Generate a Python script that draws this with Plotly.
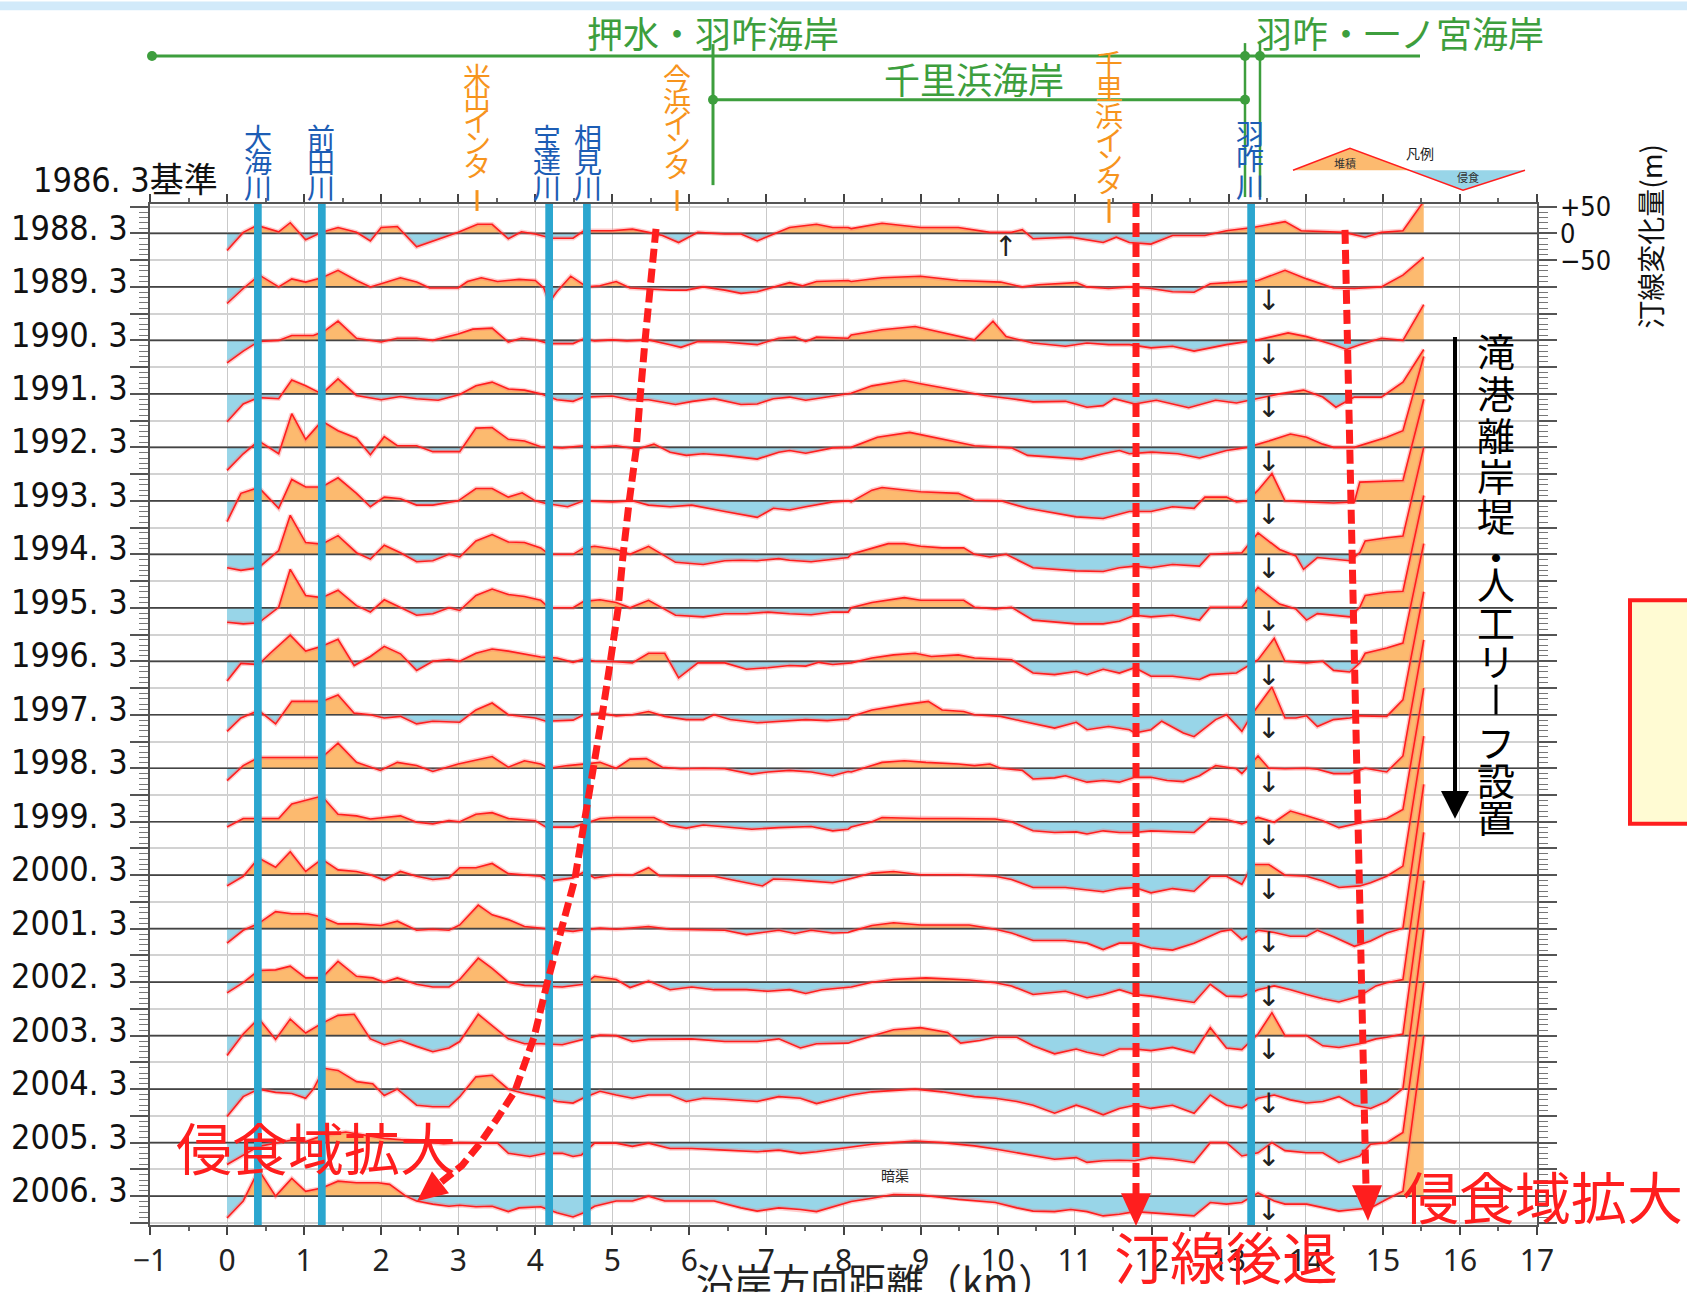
import plotly.graph_objects as go

# ---------------- data ----------------
YEARS = ["1988. 3", "1989. 3", "1990. 3", "1991. 3", "1992. 3", "1993. 3", "1994. 3",
         "1995. 3", "1996. 3", "1997. 3", "1998. 3", "1999. 3", "2000. 3", "2001. 3",
         "2002. 3", "2003. 3", "2004. 3", "2005. 3", "2006. 3"]

# alongshore distance (km) and shoreline change (m) per survey
X_1988 = [0, 0.21, 0.39, 0.67, 0.82, 1.02, 1.23, 1.44, 1.68, 1.86, 2.0, 2.21, 2.46, 3.0, 3.25, 3.44, 3.65, 3.82, 4.0, 4.21,
          4.49, 4.63, 5.0, 5.26, 5.47, 5.65, 5.86, 6.11, 6.46, 6.67, 6.88, 7.16, 7.30, 7.65, 7.86, 8.06,
          8.10, 8.50, 9.0, 9.49, 9.90, 10.18, 10.32, 10.46, 10.95, 11.37, 11.54, 11.71, 11.99, 12.27, 12.69,
          12.97, 13.31, 13.73, 13.94, 14.50, 14.77, 14.98, 15.26, 15.53]
V_1988 = [-32, 2, 15, 3, 20, -12, 2, 11, 2, -14, 11, 13, -25, 2, 17, 17, -10, 3, -1, -9,
          -9, 5, 5, 8, 2, -4, -17, 2, -1, -1, -14, 2, 11, 17, 11, 11,
          9, 19, 11, 11, 2, 2, 7, -10, -7, -17, -7, -17, -20, -4, -4,
          5, 11, 22, 5, 2, -7, 2, 5, 60]

X_1989 = [0, 0.21, 0.42, 0.67, 0.84, 1.02, 1.23, 1.44, 1.68, 1.86, 2.0, 2.25, 2.46, 2.63, 3.0, 3.12, 3.30, 3.51, 3.79, 4.0,
          4.11, 4.18, 4.28, 4.46, 4.67, 4.84, 5.05, 5.23, 5.47, 5.75, 5.96, 6.18, 6.46, 6.67, 6.88, 7.09, 7.30, 7.47, 7.65, 8.06,
          8.10, 8.50, 9.0, 9.49, 10.04, 10.32, 10.53, 11.02, 11.16, 11.44, 11.71, 11.99, 12.27, 12.55, 12.76,
          13.10, 13.38, 13.73, 14.01, 14.36, 14.63, 14.98, 15.26, 15.53]
V_1989 = [-31, -3, 22, 0, 15, 9, 17, 31, 12, 0, 6, 17, 9, -2, -2, 10, 17, 10, 14, 12,
          -2, -29, -9, 20, 0, 2, 10, -2, -4, -6, -6, 0, -6, -12, -9, 0, 8, 2, 10, 12,
          10, 17, 20, 12, 9, 0, 4, 8, 0, -3, 0, -3, -9, -10, 6,
          9, 12, 31, 15, -2, -3, 0, 22, 55]

X_1990 = [0, 0.21, 0.41, 0.67, 0.84, 1.12, 1.26, 1.44, 1.68, 2.0, 2.21, 2.46, 2.67, 3.0, 3.19, 3.44, 3.65, 3.82, 4.0, 4.18,
          4.49, 4.63, 4.77, 5.0, 5.19, 5.47, 5.75, 5.89, 6.11, 6.46, 6.88, 7.16, 7.37, 7.51, 7.65, 8.06,
          8.10, 8.50, 8.93, 9.28, 9.70, 9.94, 10.11, 10.46, 10.88, 11.16, 11.44, 11.71, 11.99, 12.27, 12.55,
          12.97, 13.38, 13.77, 14.01, 14.36, 14.53, 14.70, 14.98, 15.26, 15.53]
V_1990 = [-42, -20, -2, 0, 9, 9, 17, 36, 4, -3, 4, 4, 0, 12, 21, 23, -3, 4, 1, -6,
          -6, 3, -1, 1, -1, 1, -8, -13, -2, -3, -8, 4, 6, -2, 6, 4,
          10, 20, 26, 14, 1, 36, 7, -5, -11, -5, -8, -8, -14, -11, -20,
          -8, 1, 14, 7, -8, -17, -8, 4, 0, 67]

X_1991 = [0, 0.21, 0.41, 0.67, 0.84, 1.02, 1.23, 1.44, 1.68, 2.0, 2.25, 2.46, 2.74, 3.02, 3.23, 3.44, 3.65, 3.86, 4.07, 4.28,
          4.49, 4.63, 5.0, 5.23, 5.47, 5.82, 6.04, 6.32, 6.67, 6.88, 7.09, 7.30, 7.51, 7.79, 8.06,
          8.10, 8.37, 8.79, 9.0, 9.49, 9.83, 10.18, 10.46, 10.88, 11.16, 11.37, 11.51, 11.78, 12.06, 12.48,
          12.83, 13.10, 13.38, 13.66, 13.97, 14.22, 14.39, 14.63, 14.98, 15.26, 15.53]
V_1991 = [-52, -19, -7, -9, 26, 15, 0, 28, -3, -11, -5, -9, -12, -1, 15, 22, 9, 7, 0, -11,
          -14, -6, -4, -11, -11, -20, -14, -9, -20, -19, -9, -6, -12, -6, 0,
          1, 15, 25, 19, 6, -3, -9, -15, -14, -25, -22, -9, -19, -12, -26,
          -12, -17, -9, 0, 7, -6, -25, -6, -6, 22, 83]

X_1992 = [0, 0.21, 0.41, 0.67, 0.84, 1.02, 1.23, 1.44, 1.68, 1.86, 2.04, 2.21, 2.46, 2.67, 3.02, 3.23, 3.44, 3.65, 3.86, 4.07,
          4.35, 4.63, 4.77, 5.05, 5.33, 5.54, 5.75, 5.96, 6.18, 6.46, 6.88, 7.16, 7.30, 7.51, 7.86, 8.06,
          8.10, 8.44, 8.86, 9.70, 10.18, 10.39, 11.09, 11.37, 11.58, 11.71, 12.0, 12.34, 12.62, 12.97, 13.24,
          13.52, 13.80, 14.01, 14.22, 14.36, 14.63, 15.05, 15.26, 15.53]
V_1992 = [-43, -12, 12, -12, 63, 15, 49, 31, 17, -14, 20, 3, 3, -8, -8, 36, 37, 15, 12, 1,
          -1, 3, 0, 3, -3, 6, -9, -15, -12, -15, -22, -9, -6, -11, -1, 0,
          0, 19, 28, 3, -1, -15, -22, -12, -6, -12, -9, -12, -20, -6, 0,
          12, 25, 19, 6, 0, 0, 19, 31, 170]

X_1993 = [0, 0.18, 0.41, 0.67, 0.84, 1.02, 1.23, 1.44, 1.68, 1.86, 2.04, 2.25, 2.46, 2.67, 3.0, 3.23, 3.44, 3.65, 3.83, 4.0,
          4.14, 4.42, 4.63, 5.0, 5.26, 5.47, 5.75, 6.03, 6.46, 6.88, 7.09, 7.30, 7.51, 7.86, 8.06,
          8.10, 8.37, 8.50, 9.0, 9.49, 9.70, 10.04, 10.39, 11.02, 11.37, 11.71, 11.99, 12.27, 12.55, 12.69,
          12.97, 13.10, 13.24, 13.38, 13.56, 13.73, 14.01, 14.36, 14.63, 14.70, 15.26, 15.53]
V_1993 = [-39, 14, 25, -14, 40, 26, 26, 43, 14, -11, 7, 4, -8, -8, 0, 23, 23, 7, 15, 0,
          -5, -11, 0, -2, 0, -8, -11, -8, -20, -31, -14, -17, -11, -2, 0,
          -2, 20, 25, 17, 14, 1, 0, -14, -30, -33, -20, -20, -11, -14, 7,
          7, -2, 0, 20, 51, 0, -2, -4, -2, 35, 38, 190]

X_1994 = [0, 0.18, 0.41, 0.56, 0.67, 0.82, 1.02, 1.23, 1.44, 1.68, 1.86, 2.04, 2.25, 2.46, 2.67, 2.88, 3.02, 3.23, 3.44, 3.65,
          3.86, 4.07, 4.18, 4.49, 4.63, 4.77, 5.05, 5.23, 5.47, 5.68, 5.82, 6.18, 6.46, 6.67, 6.88, 7.16, 7.30, 7.58, 7.86, 8.06,
          8.10, 8.37, 8.58, 8.79, 9.0, 9.28, 9.56, 9.70, 9.90, 10.11, 10.46, 11.02, 11.37, 11.58, 11.78,
          11.99, 12.27, 12.62, 12.76, 13.17, 13.38, 13.66, 13.87, 13.97, 14.15, 14.57, 14.70, 14.77, 15.05, 15.26, 15.53]
V_1994 = [-25, -30, -25, -6, 7, 73, 22, 19, 35, 3, -9, 17, 3, -14, -12, 0, -5, 25, 37, 23,
          22, 12, 0, 0, 12, 15, 9, 0, 15, -3, -15, -19, -12, -11, -12, -8, -11, -14, -9, -6,
          0, 12, 20, 20, 15, 12, 12, 0, -5, 0, -25, -31, -32, -25, -22,
          -25, -19, -22, 0, 3, 40, 9, -3, -28, -6, -12, 3, 25, 31, 34, 200]

X_1995 = [0, 0.21, 0.41, 0.67, 0.82, 1.02, 1.23, 1.44, 1.68, 1.86, 2.04, 2.25, 2.46, 2.67, 2.88, 3.02, 3.23, 3.44, 3.65, 3.86,
          4.07, 4.18, 4.49, 4.63, 4.84, 5.05, 5.23, 5.47, 5.68, 5.82, 6.18, 6.46, 6.74, 7.02, 7.30, 7.58, 7.86, 8.06,
          8.10, 8.37, 8.79, 9.0, 9.28, 9.56, 9.70, 9.97, 10.18, 10.46, 11.02, 11.37, 11.58, 11.78, 11.99,
          12.27, 12.62, 12.76, 13.17, 13.38, 13.66, 13.87, 14.01, 14.15, 14.57, 14.70, 14.77, 15.05, 15.26, 15.53]
V_1995 = [-27, -30, -28, 1, 72, 23, 19, 33, 4, -8, 15, 1, -14, -11, 0, -5, 23, 35, 25, 21,
          14, 0, 0, 12, 15, 10, 0, 14, -2, -14, -17, -11, -11, -8, -11, -13, -8, -8,
          0, 10, 19, 14, 14, 14, 1, -2, 1, -23, -30, -30, -25, -14, -17,
          -14, -23, 1, 1, 38, 7, -2, -23, -11, -17, 1, 23, 29, 31, 210]

X_1996 = [0, 0.18, 0.41, 0.56, 0.82, 1.02, 1.23, 1.44, 1.65, 1.86, 2.04, 2.25, 2.46, 2.67, 2.88, 3.02, 3.23, 3.44, 3.65, 3.86,
          4.07, 4.28, 4.49, 4.63, 4.77, 5.05, 5.26, 5.47, 5.68, 5.86, 6.11, 6.46, 6.74, 7.02, 7.30, 7.51, 7.68, 7.86, 8.06,
          8.10, 8.37, 8.65, 8.93, 9.14, 9.49, 9.70, 10.18, 10.46, 10.74, 11.02, 11.16, 11.37, 11.58, 11.78, 11.99,
          12.27, 12.62, 12.76, 13.10, 13.38, 13.59, 13.73, 14.01, 14.22, 14.36, 14.57, 14.70, 14.77, 15.05, 15.26, 15.53]
V_1996 = [-37, -4, -6, 15, 49, 19, 28, 41, -8, 9, 28, 14, -17, 0, 3, 0, 15, 23, 19, 14,
          8, 6, -2, 4, 0, -1, -3, 15, 15, -31, -3, -3, -15, -12, -8, -9, -2, -6, -3,
          -3, 6, 12, 15, 9, 12, 6, 3, -22, -25, -19, -25, -15, -22, -12, -28,
          -28, -34, -25, -22, 3, 43, 0, -3, 0, -17, -20, -3, 15, 25, 34, 220]

X_1997 = [0, 0.18, 0.41, 0.63, 0.84, 1.23, 1.44, 1.65, 1.86, 2.04, 2.25, 2.46, 2.67, 3.02, 3.23, 3.44, 3.65, 4.0, 4.14, 4.49,
          4.63, 4.84, 5.05, 5.26, 5.47, 5.68, 5.96, 6.18, 6.32, 6.53, 6.88, 7.16, 7.51, 7.79, 8.06,
          8.10, 8.37, 8.79, 9.10, 9.28, 9.56, 9.70, 10.04, 10.32, 10.74, 11.02, 11.16, 11.44, 11.71, 11.78, 11.99,
          12.13, 12.41, 12.55, 12.83, 12.97, 13.17, 13.31, 13.56, 13.73, 13.87, 14.01, 14.15, 14.36, 14.57, 14.70,
          15.05, 15.26, 15.53]
V_1997 = [-31, -6, 8, -17, 25, 25, 37, 3, 0, -6, -3, -17, -12, -14, 9, 22, 0, -6, -12, -10,
          0, 3, -2, 0, 6, -3, -9, -9, 0, -9, -15, -12, -9, -11, -8,
          -3, 9, 19, 25, 9, 6, 0, -3, -12, -25, -14, -28, -22, -28, -34, -28,
          -12, -34, -41, -9, 0, -31, 3, 52, -6, -6, -2, -22, -9, -6, -2,
          -3, 28, 230]

X_1998 = [0, 0.21, 0.41, 0.84, 1.23, 1.44, 1.68, 1.99, 2.21, 2.46, 2.67, 3.0, 3.44, 3.65, 3.86, 4.07, 4.18, 4.42, 4.63, 4.84,
          5.05, 5.23, 5.44, 5.65, 5.89, 6.18, 6.46, 6.81, 7.02, 7.30, 7.58, 7.86, 8.06,
          8.10, 8.37, 8.50, 8.79, 9.07, 9.49, 9.70, 9.90, 10.04, 10.32, 10.46, 10.74, 10.88, 11.16, 11.37, 11.58,
          11.78, 11.99, 12.20, 12.41, 12.62, 12.83, 13.10, 13.17, 13.38, 13.52, 13.73, 14.01, 14.15, 14.36, 14.57,
          14.77, 15.05, 15.26, 15.53]
V_1998 = [-23, 5, 20, 20, 20, 47, 11, -4, 11, 5, -6, 8, 22, 2, 14, 8, 0, 5, 8, 11,
          0, 17, 18, 2, -1, 0, -1, -11, -7, -4, -7, -14, -6,
          -7, 5, 11, 14, 11, 8, 5, 8, 0, -4, -20, -18, -14, -26, -23, -26,
          -17, -17, -23, -25, -14, 5, -1, -10, 23, 0, -1, 0, -2, -10, -10,
          0, -7, 23, 240]

X_1999 = [0, 0.21, 0.67, 0.84, 1.23, 1.44, 1.68, 1.86, 2.04, 2.25, 2.46, 2.67, 2.88, 3.02, 3.23, 3.44, 3.65, 4.0, 4.14, 4.49,
          4.63, 4.84, 5.05, 5.54, 5.75, 5.96, 6.18, 6.46, 6.81, 7.16, 7.58, 7.86, 8.06,
          8.10, 8.37, 8.50, 9.0, 9.49, 9.97, 10.18, 10.46, 10.74, 11.02, 11.16, 11.37, 11.58, 11.78, 11.99,
          12.27, 12.55, 12.76, 12.97, 13.17, 13.38, 13.59, 13.80, 14.01, 14.22, 14.43, 14.63, 14.77, 15.05, 15.26, 15.53]
V_1999 = [-10, 6, 6, 33, 48, 14, 11, 5, 8, 11, -1, -4, 2, 0, 14, 17, 6, 2, -10, -10,
          -4, 6, 8, 8, -7, -12, -6, -9, -14, -11, -9, -17, -14,
          -10, 0, 8, 6, 6, 5, 0, -17, -20, -19, -23, -17, -20, -20, -17,
          -19, -20, 6, 4, -4, 8, -1, 20, 11, 2, -11, -4, 0, 6, 23, 250]

X_2000 = [0, 0.21, 0.41, 0.63, 0.82, 1.02, 1.23, 1.44, 1.68, 1.86, 2.04, 2.25, 2.46, 2.67, 2.88, 3.02, 3.23, 3.44, 3.65, 3.86,
          4.07, 4.18, 4.49, 4.63, 4.77, 5.05, 5.26, 5.47, 5.61, 6.03, 6.32, 6.74, 6.95, 7.09, 7.30, 7.58, 7.86,
          8.10, 8.37, 8.65, 9.0, 9.49, 9.97, 10.18, 10.46, 10.88, 11.16, 11.37, 11.58, 11.78, 11.99, 12.27,
          12.55, 12.76, 12.97, 13.17, 13.31, 13.52, 13.73, 14.01, 14.22, 14.43, 14.70, 14.84, 15.05, 15.26, 15.53]
V_2000 = [-20, -2, 32, 15, 44, 7, 30, 10, 7, 1, -9, 7, -2, -8, -5, 14, 14, 22, 3, 0,
          -2, -11, -5, 6, -5, 1, 0, 14, -1, -2, -2, -14, -20, -7, -8, -11, -14,
          -6, 4, 7, 1, 1, -2, -8, -23, -23, -27, -31, -25, -23, -33, -25,
          -30, -2, -2, -17, 20, 20, 0, -2, -11, -23, -20, -14, -2, 17, 260]

X_2001 = [0, 0.21, 0.41, 0.63, 0.84, 1.05, 1.23, 1.44, 1.68, 2.0, 2.21, 2.46, 2.67, 2.88, 3.02, 3.26, 3.44, 3.65, 3.86, 4.07,
          4.21, 4.49, 4.63, 4.84, 5.05, 5.47, 5.75, 6.18, 6.46, 6.74, 6.95, 7.16, 7.37, 7.58, 7.86, 8.06,
          8.10, 8.37, 8.65, 9.0, 9.63, 9.97, 10.18, 10.46, 10.88, 11.16, 11.37, 11.58, 11.78, 11.99, 12.27,
          12.55, 12.90, 13.03, 13.17, 13.38, 13.59, 13.80, 14.01, 14.15, 14.36, 14.63, 14.84, 15.05, 15.26, 15.53]
V_2001 = [-27, -3, 10, 32, 28, 28, 22, 9, 9, 6, 14, -3, -1, -3, 7, 44, 26, 17, 4, 1,
          -1, -5, -2, 1, -1, 4, -1, -3, -3, -11, -7, -3, -9, -3, -8, -7,
          -5, 6, 11, 7, 7, -1, -8, -22, -22, -27, -39, -27, -27, -36, -40,
          -27, -5, -2, -20, -3, -7, -14, -14, -3, -15, -33, -23, -8, 1, 270]

X_2002 = [0, 0.21, 0.41, 0.63, 0.82, 1.02, 1.23, 1.44, 1.68, 1.89, 2.04, 2.21, 2.46, 2.67, 2.88, 3.02, 3.26, 3.44, 3.65, 3.86,
          4.07, 4.35, 4.63, 4.77, 5.05, 5.23, 5.47, 5.75, 6.03, 6.32, 6.74, 7.02, 7.30, 7.51, 7.72,
          8.10, 8.37, 8.65, 9.07, 9.63, 9.97, 10.18, 10.46, 10.88, 11.16, 11.37, 11.58, 11.78, 11.99, 12.27,
          12.55, 12.76, 12.97, 13.17, 13.38, 13.59, 13.80, 14.01, 14.22, 14.43, 14.70, 14.91, 15.05, 15.26, 15.53]
V_2002 = [-20, -1, 22, 23, 30, 8, 8, 39, 11, 8, 0, 8, -4, -9, -9, 5, 45, 26, 0, -6,
          -7, -9, -4, 11, 5, -10, 2, -14, -9, -14, -14, -17, -14, -21, -14,
          -9, 0, 5, 8, 4, -1, -7, -23, -17, -29, -23, -14, -23, -26, -32,
          -38, -4, -26, -27, -14, -7, -14, -23, -31, -37, -26, -7, -1, 5, 280]

X_2003 = [0, 0.21, 0.41, 0.63, 0.82, 1.02, 1.23, 1.44, 1.65, 1.86, 2.04, 2.25, 2.46, 2.67, 2.88, 3.02, 3.26, 3.44, 3.65, 3.86,
          4.07, 4.35, 4.63, 4.84, 5.05, 5.26, 5.47, 5.75, 6.03, 6.46, 6.88, 7.16, 7.44, 7.65, 8.06,
          8.10, 8.37, 8.65, 9.0, 9.35, 9.52, 9.77, 9.97, 10.25, 10.46, 10.74, 11.02, 11.16, 11.37, 11.58, 11.78,
          11.99, 12.27, 12.55, 12.76, 12.97, 13.17, 13.38, 13.56, 13.73, 14.01, 14.22, 14.43, 14.70, 14.91, 15.05,
          15.26, 15.53]
V_2003 = [-37, 3, 32, -7, 31, 5, 23, 38, 40, -6, -17, -9, -20, -30, -23, -11, 40, 19, -6, -15,
          -15, -17, -6, 1, 0, -11, -7, -6, -6, -11, -11, -6, -23, -15, -14,
          -12, 0, 11, 15, 6, -14, -9, -3, -3, -19, -34, -25, -31, -37, -25, -25,
          -28, -22, -32, 15, -23, -26, 3, 43, 0, 0, -19, -22, -15, -6, -3,
          3, 290]

X_2004 = [0, 0.21, 0.41, 0.63, 0.84, 1.02, 1.12, 1.26, 1.44, 1.68, 1.89, 2.04, 2.21, 2.46, 2.67, 2.88, 3.02, 3.23, 3.44, 3.65,
          3.86, 4.07, 4.28, 4.49, 4.63, 4.84, 5.05, 5.26, 5.47, 5.75, 5.96, 6.18, 6.46, 6.88, 7.16, 7.44, 7.65, 7.86,
          8.10, 8.37, 8.65, 8.93, 9.28, 9.70, 9.97, 10.25, 10.46, 10.74, 11.02, 11.16, 11.37, 11.58, 11.78, 11.99,
          12.27, 12.55, 12.76, 12.97, 13.17, 13.38, 13.59, 13.80, 14.01, 14.22, 14.43, 14.63, 14.84, 15.05, 15.26, 15.53]
V_2004 = [-51, -14, 0, -6, -8, -17, 0, 39, 35, 14, 10, -12, 0, -30, -33, -33, -14, 23, 26, 0,
          -8, -14, -23, -26, -16, -4, -11, -17, -11, -11, -23, -17, -19, -23, -14, -17, -27, -20,
          -11, -5, -2, 0, -5, -14, -17, -23, -30, -45, -30, -36, -48, -36, -30, -36,
          -30, -45, -11, -30, -35, -17, -11, -20, -26, -23, -14, -30, -36, -23, 1, 300]

X_2005 = [0, 0.21, 0.41, 0.63, 0.84, 1.02, 1.26, 1.54, 1.82, 2.04, 2.46, 2.81, 3.02, 3.23, 3.51, 3.65, 3.93, 4.14, 4.35, 4.49,
          4.60, 4.77, 5.05, 5.26, 5.47, 5.75, 6.03, 6.46, 6.88, 7.16, 7.44, 7.65,
          8.10, 8.37, 8.65, 8.93, 9.28, 9.70, 9.97, 10.25, 10.46, 10.74, 11.02, 11.16, 11.37, 11.58, 11.78, 11.99,
          12.27, 12.55, 12.76, 12.97, 13.17, 13.38, 13.56, 13.73, 14.01, 14.22, 14.43, 14.70, 14.84, 15.05, 15.26, 15.53]
V_2005 = [-41, -23, -7, -1, 5, 2, 14, 20, 14, 8, 3, -2, 0, -1, -1, -20, -26, -20, -20, -26,
          -23, -1, -1, -7, -1, -11, -11, -14, -17, -14, -20, -17,
          -9, -3, 0, 3, 0, -6, -12, -19, -25, -31, -28, -37, -34, -33, -34, -28,
          -31, -37, 0, 0, -25, -19, 0, -15, -19, -19, -37, -25, -3, 0, 19, 300]

X_2006 = [0, 0.21, 0.41, 0.63, 0.84, 1.02, 1.23, 1.44, 1.68, 1.96, 2.11, 2.32, 2.46, 2.67, 2.88, 3.02, 3.23, 3.44, 3.65, 3.79,
          4.07, 4.28, 4.49, 4.63, 4.77, 5.05, 5.26, 5.47, 5.68, 5.96, 6.32, 6.67, 6.88, 7.16, 7.44, 7.65, 7.86,
          8.10, 8.37, 8.65, 9.0, 9.49, 9.97, 10.25, 10.46, 10.74, 10.95, 11.16, 11.37, 11.58, 11.78, 11.99,
          12.27, 12.55, 12.76, 12.97, 13.17, 13.38, 13.59, 13.73, 14.01, 14.22, 14.43, 14.63, 14.84, 15.05, 15.26, 15.53]
V_2006 = [-41, -9, 49, 0, 33, 9, 15, 28, 25, 25, 22, 0, -9, -15, -19, -17, -20, -19, -29, -22,
          -20, -31, -39, -31, -19, -9, -9, 0, -9, -9, -9, -22, -28, -22, -25, -29, -20,
          -10, -4, 3, 2, -6, -12, -22, -28, -29, -25, -29, -37, -34, -29, -31,
          -34, -37, -12, -15, -12, 6, -9, -15, -15, -22, -28, -25, -22, -6, 9, 300]

ROWS = [(X_1988, V_1988), (X_1989, V_1989), (X_1990, V_1990), (X_1991, V_1991), (X_1992, V_1992),
        (X_1993, V_1993), (X_1994, V_1994), (X_1995, V_1995), (X_1996, V_1996), (X_1997, V_1997),
        (X_1998, V_1998), (X_1999, V_1999), (X_2000, V_2000), (X_2001, V_2001), (X_2002, V_2002),
        (X_2003, V_2003), (X_2004, V_2004), (X_2005, V_2005), (X_2006, V_2006)]

RIVER_KM = [0.40, 1.23, 4.18, 4.67, 13.29]
RIVER_NAMES = ["大海川", "前田川", "宝達川", "相見川", "羽咋川"]
ARROW_KM = 13.52          # "↓" marks, 1989 onward
UP_ARROW_KM = 10.1        # "↑" mark, 1988
ROW_STEP = 100            # m between survey baselines

# ---------------- geometry helpers ----------------
W, H = 1687, 1292
L, R, T, B = 150, 1537, 204, 1232
def px(x): return (x - L) / (R - L)
def py(y): return (B - y) / (B - T)

FJ = "Noto Sans CJK JP, Noto Sans, sans-serif"
FN = "Liberation Sans Narrow, DejaVu Sans Condensed, Noto Sans CJK JP, sans-serif"
ORANGE_F = "#fcba6f"
BLUE_F = "#98d5e8"
RED = "#ff1e1e"
GREEN = "#3d9e3d"
RIVER_C = "#2ba6cf"
RIVER_T = "#1c5db5"
IC_C = "#f7941d"

annotations, shapes = [], []

def ann(text, xp, yp, size, color="#000", xanchor="center", yanchor="middle", family=FJ, angle=0):
    annotations.append(dict(text=text, x=px(xp), y=py(yp), xref="paper", yref="paper", showarrow=False,
                            font=dict(size=size, color=color, family=family), xanchor=xanchor,
                            yanchor=yanchor, textangle=angle))

def seg(x0, y0, x1, y1, color, width, dash=None):
    shapes.append(dict(type="line", xref="paper", yref="paper", x0=px(x0), y0=py(y0), x1=px(x1), y1=py(y1),
                       line=dict(color=color, width=width, dash=dash), layer="above"))

def path(points, color=None, width=0, fill=None, dash=None, close=False):
    d = "M " + " L ".join(f"{px(a):.5f},{py(b):.5f}" for a, b in points) + (" Z" if close else "")
    shapes.append(dict(type="path", xref="paper", yref="paper", path=d,
                       line=dict(color=color or "rgba(0,0,0,0)", width=width, dash=dash),
                       fillcolor=fill or "rgba(0,0,0,0)", layer="above"))

def dot(x, y, r, color):
    shapes.append(dict(type="circle", xref="paper", yref="paper",
                       x0=px(x - r), x1=px(x + r), y0=py(y + r), y1=py(y - r),
                       fillcolor=color, line=dict(width=0), layer="above"))

def rect(x0, y0, x1, y1, fill, color=None, width=0, layer="above"):
    shapes.append(dict(type="rect", xref="paper", yref="paper", x0=px(x0), x1=px(x1), y0=py(y1), y1=py(y0),
                       fillcolor=fill, line=dict(color=color or "rgba(0,0,0,0)", width=width), layer=layer))

def split(xs, vs):
    ox, ov = [xs[0]], [vs[0]]
    for k in range(1, len(xs)):
        v0, v1 = vs[k - 1], vs[k]
        if v0 * v1 < 0:
            ox.append(xs[k - 1] + (xs[k] - xs[k - 1]) * v0 / (v0 - v1))
            ov.append(0)
        ox.append(xs[k]); ov.append(v1)
    return ox, ov

# ---------------- traces ----------------
fig = go.Figure()
for i, (xs, vs) in enumerate(ROWS):
    b = -ROW_STEP * i
    sx, sv = split(xs, vs)
    xx = sx + [sx[-1], sx[0]]
    fig.add_trace(go.Scatter(x=xx, y=[b + min(v, 0) for v in sv] + [b, b], mode="lines", fill="toself",
                             fillcolor=BLUE_F, line=dict(width=0), hoverinfo="skip"))
    fig.add_trace(go.Scatter(x=xx, y=[b + max(v, 0) for v in sv] + [b, b], mode="lines", fill="toself",
                             fillcolor=ORANGE_F, line=dict(width=0), hoverinfo="skip"))

bx, by = [], []
for i in range(len(ROWS)):
    bx += [-1, 17, None]; by += [-ROW_STEP * i, -ROW_STEP * i, None]
fig.add_trace(go.Scatter(x=bx, y=by, mode="lines", line=dict(color="#444", width=1.7), hoverinfo="skip"))

for i, (xs, vs) in enumerate(ROWS):
    b = -ROW_STEP * i
    yy = [b + v for v in vs]
    fig.add_trace(go.Scatter(x=xs, y=yy, mode="lines", line=dict(color="rgba(255,110,110,0.35)", width=4.5),
                             hoverinfo="skip"))
    fig.add_trace(go.Scatter(x=xs, y=yy, mode="lines", line=dict(color=RED, width=1.6), hoverinfo="skip"))

# rivers
for k in RIVER_KM:
    shapes.append(dict(type="rect", xref="x", yref="paper", x0=k - 0.05, x1=k + 0.05, y0=0, y1=1,
                       fillcolor=RIVER_C, line=dict(width=0), layer="above"))

# year labels and arrows
for i, yl in enumerate(YEARS):
    b = -ROW_STEP * i
    annotations.append(dict(text=yl, x=px(130), y=b + 11, xref="paper", yref="y", showarrow=False,
                            xanchor="right", yanchor="middle", font=dict(size=34, color="#111", family=FN)))
    if i > 0:
        annotations.append(dict(text="↓", x=ARROW_KM, y=b - 26, xref="x", yref="y", showarrow=False,
                                font=dict(size=28, color="#222", family="DejaVu Sans")))
annotations.append(dict(text="↑", x=UP_ARROW_KM, y=-24, xref="x", yref="y", showarrow=False,
                        font=dict(size=28, color="#222", family="DejaVu Sans")))

# right axis labels
for lab, v in [("+50", 50), ("0", 0), ("−50", -50)]:
    annotations.append(dict(text=lab, x=px(1558), y=v, xref="paper", yref="y", showarrow=False,
                            xanchor="left", yanchor="middle", font=dict(size=27, color="#111", family=FN)))
ann("汀線変化量(m)", 1650, 237, 28, "#111", angle=-90)
ann("1986. 3基準", 220, 180, 34, "#111", xanchor="right", family=FN)

# top band
rect(0, 0, W, 9, "#d2eafa", layer="below")

# green coast segments
seg(151, 55, 1420, 55, GREEN, 3)
seg(713, 43, 713, 185, GREEN, 3)
seg(713, 99, 1245, 99, GREEN, 3)
seg(1245, 42, 1245, 197, GREEN, 2.5)
seg(1260, 42, 1260, 197, GREEN, 2.5)
for (a, c) in [(152, 55), (713, 99), (1245, 55), (1260, 55), (1245, 99)]:
    dot(a, c, 5, GREEN)
ann("押水・羽咋海岸", 713, 31, 36, GREEN)
ann("千里浜海岸", 974, 77, 36, GREEN)
ann("羽咋・一ノ宮海岸", 1400, 31, 36, GREEN)

# river labels (vertical)
RIVER_LABEL_X = [258, 321, 547, 588, 1250]
for name, xl in zip(RIVER_NAMES, RIVER_LABEL_X):
    ys = [133, 158, 186] if name == "羽咋川" else [137, 161, 187]
    for ch, yc in zip(name, ys):
        ann(ch, xl, yc, 28, RIVER_T)

# interchange labels (vertical)
def ic_label(chars, xl, ycs, bar):
    for ch, yc in zip(chars, ycs):
        ann(ch, xl, yc, 28, IC_C)
    seg(xl, bar[0], xl, bar[1], IC_C, 3)
ic_label("米出インタ", 477, [75, 97, 119, 142, 165], (190, 211))
ic_label("今浜インタ", 677, [76, 99, 121, 143, 166], (190, 211))
ic_label("千里浜インタ", 1109, [62, 87, 114, 139, 160, 181], (199, 223))

# legend (凡例)
path([(1293, 170), (1350, 148), (1410, 170)], fill=ORANGE_F, close=True)
path([(1410, 170), (1525, 170), (1463, 190)], fill=BLUE_F, close=True)
path([(1293, 170), (1350, 148), (1463, 190), (1525, 170)], color=RED, width=1.5)
ann("凡例", 1420, 153, 14, "#222")
ann("堆積", 1345, 163, 11, "#333")
ann("侵食", 1468, 177, 11, "#333")

# 暗渠
ann("暗渠", 895, 1182, 14, "#222")

# red dashed annotations
CURVE = [(656, 229), (650, 290), (645, 342), (640, 400), (636, 452), (629, 505), (623, 558), (618, 612),
         (610, 667), (602, 720), (593, 774), (584, 828), (575, 883), (561, 936), (547, 989), (534, 1043),
         (515, 1097), (497, 1125), (480, 1150), (462, 1172), (441, 1189)]
path(CURVE, color=RED, width=7, dash="14px,6px")
path([(417, 1208), (449, 1200), (432, 1178)], fill=RED, close=True)
seg(1136, 203, 1136, 1203, RED, 7, "14px,6px")
path([(1136, 1233), (1121, 1200), (1151, 1200)], fill=RED, close=True)
seg(1345, 230, 1366, 1193, RED, 7, "14px,6px")
path([(1368, 1228), (1352, 1192), (1382, 1192)], fill=RED, close=True)
ann("侵食域拡大", 316, 1152, 56, RED)
ann("汀線後退", 1226, 1262, 56, RED)
ann("侵食域拡大", 1543, 1201, 56, RED)

# black arrow + vertical text
seg(1455, 338, 1455, 800, "#000", 4)
path([(1455, 823), (1441, 795), (1469, 795)], fill="#000", close=True)
for ch, yc in zip("滝港離岸堤・人工リ", [351, 393, 435, 476, 517, 558, 585, 624, 663]):
    ann(ch, 1496, yc, 38, "#000")
seg(1496, 688, 1496, 718, "#000", 3)
for ch, yc in zip("フ設置", [744, 782, 820]):
    ann(ch, 1496, yc, 38, "#000")

# red box at right edge
rect(1630, 603, 1710, 828, "#fffbd3", RED, 4)

# ---------------- layout ----------------
fig.update_layout(
    width=W, height=H, margin=dict(l=L, r=W - R, t=T, b=H - B),
    plot_bgcolor="white", paper_bgcolor="white", showlegend=False,
    shapes=shapes,
    xaxis=dict(range=[-1, 17], tickmode="linear", tick0=-1, dtick=1, ticks="outside", ticklen=8,
               tickwidth=1.5, tickcolor="#444", showline=True, linecolor="#555", linewidth=1.5,
               mirror="ticks", showgrid=True, gridcolor="#c9c9c9", gridwidth=1, zeroline=False,
               tickfont=dict(size=30, color="#222", family="Noto Sans, DejaVu Sans"),
               minor=dict(tickmode="linear", tick0=0, dtick=0.5, ticks="outside", ticklen=4,
                          tickcolor="#666", showgrid=False)),
    yaxis=dict(range=[-1854, 55], tickmode="linear", tick0=0, dtick=50, ticks="outside", ticklen=18,
               tickwidth=1.5, tickcolor="#555", showticklabels=False, showgrid=True, gridcolor="#d2d2d2",
               gridwidth=1.5, zeroline=False, showline=True, linecolor="#555", linewidth=1.5, mirror="ticks",
               minor=dict(tickmode="linear", tick0=0, dtick=10, ticks="outside", ticklen=9,
                          tickcolor="#777", tickwidth=1, showgrid=False)),
)
ann("沿岸方向距離（km）", 876, 1287, 38, "#222")
fig.update_layout(annotations=annotations)

fig.write_html("out.html", config={"displayModeBar": False},
               post_script="document.body.style.margin='0';document.body.style.overflow='hidden';")
